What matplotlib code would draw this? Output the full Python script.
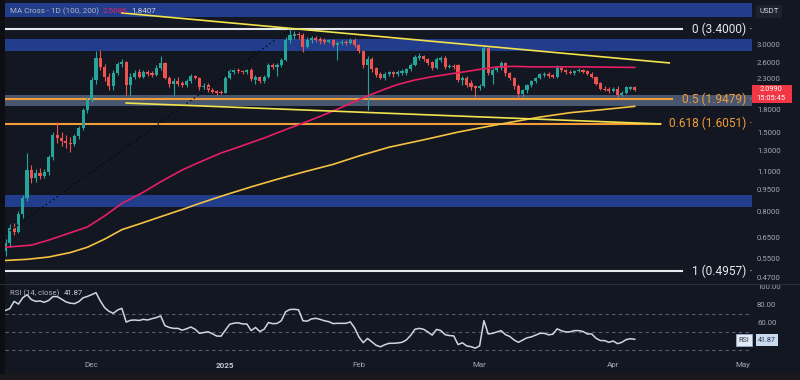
import matplotlib
matplotlib.use('Agg')
import matplotlib.pyplot as plt
import matplotlib.dates as mdates
from matplotlib.patches import Rectangle
from matplotlib.ticker import NullLocator
import numpy as np
import pandas as pd

plt.rcParams['font.family'] = ['Roboto', 'DejaVu Sans']

# ---- daily candles, Nov 11 2024 .. Apr 6 2025 ----
start_day = '2024-11-11'
opens = [
    0.58, 0.62, 0.70, 0.68, 0.78, 0.89, 1.11, 1.04, 1.08, 1.06,
    1.09, 1.23, 1.47, 1.43, 1.40, 1.38, 1.36, 1.45, 1.55, 1.79,
    1.94, 2.27, 2.70, 2.52, 2.33, 2.17, 2.40, 2.57, 2.61, 2.18,
    2.33, 2.42, 2.33, 2.42, 2.40, 2.37, 2.50, 2.60, 2.31, 2.20,
    2.25, 2.22, 2.18, 2.25, 2.35, 2.31, 2.14, 2.18, 2.10, 2.08, 2.07,
    2.05, 2.31, 2.42, 2.46, 2.43, 2.41, 2.46, 2.27, 2.33, 2.26,
    2.32, 2.56, 2.52, 2.55, 2.66, 3.12, 3.22, 3.28, 3.25, 2.96,
    3.12, 3.18, 3.15, 3.12, 3.08, 3.11, 3.00, 3.05, 3.08, 3.05, 3.12,
    3.00, 2.85, 2.56, 2.68, 2.50, 2.38, 2.31, 2.38, 2.41, 2.38,
    2.40, 2.40, 2.47, 2.56, 2.70, 2.74, 2.68, 2.62, 2.50, 2.66,
    2.70, 2.52, 2.54, 2.56, 2.27, 2.31, 2.22, 2.17,
    2.13, 2.17, 2.93, 2.36, 2.46, 2.50, 2.60, 2.40, 2.31, 2.16,
    2.03, 2.10, 2.18, 2.25, 2.31, 2.36, 2.38, 2.36, 2.33, 2.50,
    2.45, 2.42, 2.40, 2.43, 2.46, 2.43, 2.38, 2.33, 2.22, 2.12, 2.12,
    2.08, 2.12, 2.02, 2.05, 2.12, 2.14,
]
highs = [
    0.64, 0.72, 0.73, 0.80, 0.91, 1.27, 1.15, 1.12, 1.13, 1.12,
    1.25, 1.50, 1.63, 1.50, 1.46, 1.44, 1.48, 1.58, 1.82, 1.98,
    2.32, 2.85, 2.88, 2.58, 2.40, 2.45, 2.62, 2.68, 2.63, 2.40,
    2.45, 2.47, 2.45, 2.46, 2.44, 2.55, 2.75, 2.62, 2.35, 2.30,
    2.32, 2.25, 2.28, 2.38, 2.37, 2.33, 2.22, 2.22, 2.13, 2.10, 2.10,
    2.34, 2.47, 2.50, 2.49, 2.46, 2.48, 2.50, 2.36, 2.35, 2.36,
    2.60, 2.60, 2.60, 2.70, 3.20, 3.40, 3.35, 3.32, 3.30, 3.20,
    3.22, 3.22, 3.20, 3.16, 3.15, 3.14, 3.10, 3.13, 3.12, 3.17, 3.18,
    3.03, 2.87, 2.75, 2.72, 2.52, 2.42, 2.42, 2.44, 2.44, 2.45,
    2.47, 2.50, 2.60, 2.76, 2.82, 2.77, 2.71, 2.65, 2.72, 2.74,
    2.74, 2.58, 2.58, 2.58, 2.35, 2.34, 2.27, 2.18,
    2.20, 2.98, 2.95, 2.50, 2.54, 2.63, 2.62, 2.42, 2.33, 2.20,
    2.12, 2.20, 2.27, 2.33, 2.40, 2.41, 2.41, 2.38, 2.56, 2.53,
    2.47, 2.45, 2.45, 2.49, 2.48, 2.45, 2.41, 2.35, 2.24, 2.16, 2.14,
    2.15, 2.16, 2.08, 2.16, 2.17, 2.16,
]
lows = [
    0.56, 0.60, 0.66, 0.67, 0.76, 0.87, 1.00, 1.01, 1.03, 1.04,
    1.07, 1.20, 1.38, 1.34, 1.32, 1.28, 1.34, 1.42, 1.52, 1.75,
    1.90, 2.20, 2.45, 2.25, 2.10, 2.10, 2.36, 2.52, 2.02, 2.02,
    2.28, 2.30, 2.30, 2.35, 2.33, 2.35, 2.45, 2.28, 2.15, 2.02,
    2.17, 2.14, 2.15, 2.22, 2.28, 2.10, 2.10, 2.07, 2.04, 2.02, 2.03,
    2.04, 2.29, 2.38, 2.40, 2.38, 2.38, 2.26, 2.20, 2.22, 2.22,
    2.30, 2.48, 2.35, 2.52, 2.64, 3.05, 3.15, 3.15, 2.83, 2.92,
    3.05, 3.08, 3.02, 3.03, 3.05, 2.96, 2.66, 3.00, 3.00, 3.02, 2.95,
    2.82, 2.50, 1.79, 2.42, 2.32, 2.28, 2.27, 2.35, 2.33, 2.35,
    2.37, 2.36, 2.44, 2.54, 2.66, 2.64, 2.56, 2.46, 2.48, 2.62,
    2.47, 2.49, 2.48, 2.24, 2.18, 2.15, 2.10, 1.98,
    2.10, 2.15, 2.36, 2.20, 2.42, 2.46, 2.35, 2.27, 2.12, 1.96,
    1.98, 2.05, 2.14, 2.21, 2.28, 2.32, 2.31, 2.30, 2.31, 2.42,
    2.38, 2.38, 2.37, 2.41, 2.40, 2.36, 2.31, 2.18, 2.10, 2.08, 2.05,
    2.06, 1.98, 2.00, 2.03, 2.10, 2.08,
]
closes = [
    0.62, 0.70, 0.68, 0.78, 0.89, 1.11, 1.04, 1.08, 1.06, 1.09,
    1.23, 1.47, 1.43, 1.40, 1.37, 1.36, 1.45, 1.55, 1.79, 1.94,
    2.27, 2.70, 2.52, 2.33, 2.17, 2.40, 2.58, 2.61, 2.18, 2.33,
    2.40, 2.33, 2.42, 2.38, 2.37, 2.50, 2.60, 2.31, 2.20, 2.25,
    2.20, 2.18, 2.25, 2.35, 2.31, 2.14, 2.17, 2.10, 2.06, 2.05, 2.05,
    2.31, 2.44, 2.46, 2.43, 2.41, 2.45, 2.28, 2.33, 2.26, 2.32,
    2.56, 2.52, 2.55, 2.66, 3.12, 3.25, 3.28, 3.25, 2.96, 3.12,
    3.18, 3.13, 3.09, 3.08, 3.11, 3.00, 3.05, 3.08, 3.05, 3.12, 3.00,
    2.85, 2.56, 2.68, 2.48, 2.36, 2.31, 2.38, 2.41, 2.38, 2.41,
    2.43, 2.47, 2.56, 2.72, 2.74, 2.68, 2.60, 2.50, 2.68, 2.70,
    2.52, 2.54, 2.52, 2.27, 2.30, 2.18, 2.15, 2.13,
    2.17, 2.93, 2.40, 2.46, 2.50, 2.60, 2.40, 2.31, 2.16, 2.03,
    2.10, 2.18, 2.25, 2.31, 2.38, 2.38, 2.34, 2.33, 2.50, 2.45,
    2.41, 2.40, 2.43, 2.46, 2.42, 2.39, 2.33, 2.20, 2.12, 2.10, 2.08,
    2.12, 2.02, 2.05, 2.14, 2.15, 2.099,
]
rsi = [
    74, 76, 84, 81, 88, 91.5, 86, 84, 84.5, 83,
    85, 89.3, 89.3, 86.5, 83.5, 82, 81.5, 83.7, 88, 89.5,
    91.5, 93.7, 84.5, 77, 73, 70.7, 74.4, 76.3, 61, 63,
    63.3, 62.8, 64, 63.3, 64.8, 66, 67.8, 57, 55, 54,
    54, 52, 53.5, 55.5, 53, 48.5, 49.3, 50.2, 48, 45.5,
    45.3, 52, 58.5, 59.8, 60.2, 58.9, 58.9, 51.5, 55, 50.5,
    53, 60.5, 59.2, 59.5, 62.5, 72.5, 75, 75.2, 74.6, 62.5,
    62, 64.5, 65.2, 64, 62.4, 61.5, 59.3, 59.6, 59.6, 59.6,
    61.2, 54.5, 44.5, 38.1, 42.8, 39, 35.2, 33.5, 35.8, 37.4,
    37.4, 37.8, 38.5, 41.1, 46.2, 53, 54, 53, 50, 46.5,
    52.8, 51.6, 47, 46, 45.6, 36, 38, 34.5, 33.7, 32,
    34.5, 62.6, 47.8, 48.5, 50, 51.5, 47, 45, 41.1, 38.5,
    41, 43.5, 44.5, 46.5, 48.5, 48.5, 46.8, 47.5, 53.5, 51.3,
    50, 50.2, 51.5, 51.5, 50.5, 47.8, 47.8, 43, 40.5, 40.4,
    38.5, 40, 37, 38.5, 41.5, 42.5, 41.87,
]

# moving averages
ma100_dates = ['2024-11-11', '2024-11-17', '2024-11-21', '2024-11-25', '2024-11-30',
               '2024-12-04', '2024-12-08', '2024-12-13', '2024-12-17', '2024-12-22',
               '2024-12-26', '2024-12-31', '2025-01-04', '2025-01-07', '2025-01-10',
               '2025-01-13', '2025-01-16', '2025-01-19', '2025-01-23', '2025-01-27',
               '2025-01-31', '2025-02-03', '2025-02-07', '2025-02-10', '2025-02-14',
               '2025-02-18', '2025-02-22', '2025-02-26', '2025-03-01', '2025-03-05',
               '2025-03-09', '2025-03-13', '2025-03-19', '2025-03-25', '2025-04-06']
ma100_vals = [0.60, 0.61, 0.635, 0.665, 0.705, 0.77, 0.85, 0.93, 1.01, 1.11,
              1.18, 1.27, 1.33, 1.38, 1.43, 1.49, 1.55, 1.61, 1.70, 1.80,
              1.91, 2.00, 2.11, 2.19, 2.27, 2.33, 2.38, 2.43, 2.47, 2.52,
              2.53, 2.52, 2.52, 2.52, 2.5086]
ma200_dates = ['2024-11-11', '2024-11-16', '2024-11-21', '2024-11-26', '2024-11-30',
               '2024-12-04', '2024-12-08', '2024-12-13', '2024-12-17', '2024-12-22',
               '2024-12-26', '2024-12-31', '2025-01-07', '2025-01-13', '2025-01-19',
               '2025-01-26', '2025-02-01', '2025-02-08', '2025-02-16', '2025-02-24',
               '2025-03-01', '2025-03-08', '2025-03-15', '2025-03-22', '2025-03-29',
               '2025-04-06']
ma200_vals = [0.54, 0.545, 0.555, 0.575, 0.60, 0.64, 0.69, 0.73, 0.765, 0.81,
              0.85, 0.90, 0.97, 1.03, 1.09, 1.16, 1.24, 1.33, 1.41, 1.50,
              1.55, 1.62, 1.69, 1.75, 1.79, 1.8407]

# fib levels
fib_levels = [3.4000, 1.9479, 1.6051, 0.4957]
fib_names = ['0', '0.5', '0.618', '1']

# drawn trendlines (date, price)
upper_trend = [('2024-12-08', 3.87), ('2025-04-14', 2.60)]
lower_trend = [('2024-12-09', 1.89), ('2025-04-12', 1.60)]
fib_diag = [('2024-10-30', 0.4957), ('2025-01-16', 3.40)]

price_ticks = [3.0, 2.6, 2.3, 1.8, 1.5, 1.3, 1.1, 0.95, 0.8, 0.65, 0.55, 0.47]
month_ticks = ['2024-12-01', '2025-01-01', '2025-02-01', '2025-03-01', '2025-04-01', '2025-05-01']
month_labels = ['Dec', '2025', 'Feb', 'Mar', 'Apr', 'May']

# ---- colours ----
BG = '#131722'
GREEN = '#26a69a'
RED = '#ef5350'
BLUE_BAND = '#213d8c'
GREY_BAND = '#48566f'
ORANGE = '#f29d38'
WHITE = '#e6e8ee'
YELLOW = '#f2e34c'
MA200_C = '#f5c242'
PINK = '#e91e63'
TXT = '#a3a6af'

W, H = 800, 380
fig = plt.figure(figsize=(W / 100, H / 100), dpi=100, facecolor=BG)


def px_rect(x0, y0, x1, y1):
    return [x0 / W, 1 - y1 / H, (x1 - x0) / W, (y1 - y0) / H]


def d2n(s):
    return mdates.date2num(pd.Timestamp(s).to_pydatetime())


ax = fig.add_axes(px_rect(5, 0, 752, 282))
rax = fig.add_axes(px_rect(5, 286, 752, 355))

px_per_day = 4.31
dec1 = d2n('2024-12-01')
xmin = dec1 - (91.7 - 5) / px_per_day
xmax = dec1 + (752 - 91.7) / px_per_day

for a in (ax, rax):
    a.set_facecolor(BG)
    for s in a.spines.values():
        s.set_visible(False)
    a.set_xlim(xmin, xmax)

dates = pd.date_range(start_day, periods=len(closes), freq='D')
xs = mdates.date2num(dates.to_pydatetime())
o = np.array(opens)
h = np.array(highs)
l = np.array(lows)
c = np.array(closes)
up = c >= o
cols = np.where(up, GREEN, RED)

ax.set_yscale('log')
ax.set_ylim(0.455, 4.29)

# bands
ax.axhspan(3.75, 4.19, color=BLUE_BAND, zorder=0.5, lw=0)
ax.axhspan(2.86, 3.15, color=BLUE_BAND, zorder=0.5, lw=0)
ax.axhspan(0.827, 0.91, color=BLUE_BAND, zorder=0.5, lw=0)
ax.axhspan(1.85, 2.02, color=GREY_BAND, zorder=0.5, lw=0)

# candles
ax.vlines(xs, l, h, color=cols, lw=0.8, zorder=2)
body_lo = np.minimum(o, c)
body_h = np.maximum(np.abs(c - o), 0.004 * c)
ax.bar(xs, body_h, bottom=body_lo, width=0.72, color=cols, lw=0, zorder=2)

# fib lines + labels
fib_end_px = [682, 672, 660, 682]
fib_cols = [WHITE, ORANGE, ORANGE, WHITE]
ytr = ax.get_yaxis_transform()
for lev, name, endpx, fc in zip(fib_levels, fib_names, fib_end_px, fib_cols):
    ax.axhline(lev, xmin=0, xmax=(endpx - 5) / 747, color=fc, lw=1.5, zorder=1.8)
    ax.text((746 - 5) / 747, lev, '%s (%.4f)' % (name, lev), transform=ytr,
            ha='right', va='center', color=fc, fontsize=8.6, zorder=5)
    ax.text((751 - 5) / 747, lev, '•', transform=ytr, ha='center', va='center',
            color=fc, fontsize=4, zorder=5)

# moving averages
ax.plot([d2n(d) for d in ma100_dates], ma100_vals, color=PINK, lw=1.2, zorder=3,
        solid_joinstyle='round')
ax.plot([d2n(d) for d in ma200_dates], ma200_vals, color=MA200_C, lw=1.2, zorder=3,
        solid_joinstyle='round')

# trendlines
for tl in (upper_trend, lower_trend):
    ax.plot([d2n(p[0]) for p in tl], [p[1] for p in tl], color=YELLOW, lw=1.2, zorder=3.2)
ax.plot([d2n(p[0]) for p in fib_diag], [p[1] for p in fib_diag], color='#05070b',
        lw=1.0, ls=(0, (1, 2.2)), zorder=3.1)

ax.set_xticks([])
ax.yaxis.tick_right()
ax.set_yticks(price_ticks)
ax.set_yticklabels(['%.4f' % t for t in price_ticks])
ax.yaxis.set_minor_locator(NullLocator())
ax.tick_params(axis='y', length=0, pad=3.6, labelsize=5.6, labelcolor=TXT)

# ---- RSI panel ----
rax.set_ylim(24.4, 101.1)
for lv in (70, 50, 30):
    rax.axhline(lv, xmin=0, xmax=(750 - 5) / 747, color='#5a5e6b', lw=0.8, ls=(0, (3, 3)))
rax.plot(xs, rsi, color='#cdd6e6', lw=1.1)
rax.yaxis.tick_right()
rax.set_yticks([100, 80, 60])
rax.set_yticklabels(['100.00', '80.00', '60.00'])
rax.tick_params(axis='y', length=0, pad=3.6, labelsize=5.6, labelcolor=TXT)
rax.set_xticks([d2n(m) for m in month_ticks])
rax.set_xticklabels(month_labels)
rax.tick_params(axis='x', length=0, pad=5, labelsize=5.8, labelcolor=TXT)
for t in rax.get_xticklabels():
    if t.get_text() == '2025':
        t.set_fontweight('bold')
        t.set_color('#c3c6ce')


# ---- overlays in pixel coordinates ----
def ftext(x, y, s, **kw):
    return fig.text(x / W, 1 - y / H, s, **kw)


renderer = fig.canvas.get_renderer()


def text_row(x, y, parts, size, gap=4):
    # lay out a row of differently coloured texts left to right
    for s, col in parts:
        t = ftext(x, y, s, color=col, fontsize=size, va='center')
        x = t.get_window_extent(renderer).x1 + gap


text_row(10, 11, [('MA Cross - 1D (100, 200)', '#b2b5be'), ('2.5086', PINK),
                  ('1.8407', '#d1d4dc')], 5.8)
text_row(10, 293, [('RSI (14, close)', '#b2b5be'), ('41.87', '#d1d4dc')], 5.6)

ftext(769, 11, 'USDT', color='#d1d4dc', fontsize=5.6, ha='center', va='center',
      bbox=dict(boxstyle='square,pad=0.45', fc='#1e222d', ec='none'))

fig.patches.append(Rectangle((752 / W, 1 - 103 / H), 40 / W, 18 / H, transform=fig.transFigure,
                             fc='#f23645', ec='none', zorder=10))
ftext(771, 89.5, '2.0990', color='white', fontsize=5.4, ha='center', va='center', zorder=11)
ftext(771, 98.5, '15:05:45', color='white', fontsize=5.4, ha='center', va='center', zorder=11)

ftext(744, 340, 'RSI', color='#2a3450', fontsize=5.2, ha='center', va='center', zorder=11,
      bbox=dict(boxstyle='square,pad=0.3', fc='#e3ebf6', ec='#9fb3cf', lw=0.5))
ftext(767, 340, '41.87', color='#2a3450', fontsize=5.2, ha='center', va='center', zorder=11,
      bbox=dict(boxstyle='square,pad=0.3', fc='#c9d9ee', ec='none'))

# frame strips
fig.patches.append(Rectangle((0, 0), 5 / W, 1, transform=fig.transFigure, fc='#0c0e13', ec='none', zorder=9))
fig.patches.append(Rectangle((0, 0), 1, 6 / H, transform=fig.transFigure, fc='#19191b', ec='none', zorder=9))
fig.patches.append(Rectangle((0, 1 - 285 / H), 1, 1 / H, transform=fig.transFigure, fc='#2a2e39', ec='none', zorder=9))

fig.savefig('out.png', dpi=100, facecolor=BG)
